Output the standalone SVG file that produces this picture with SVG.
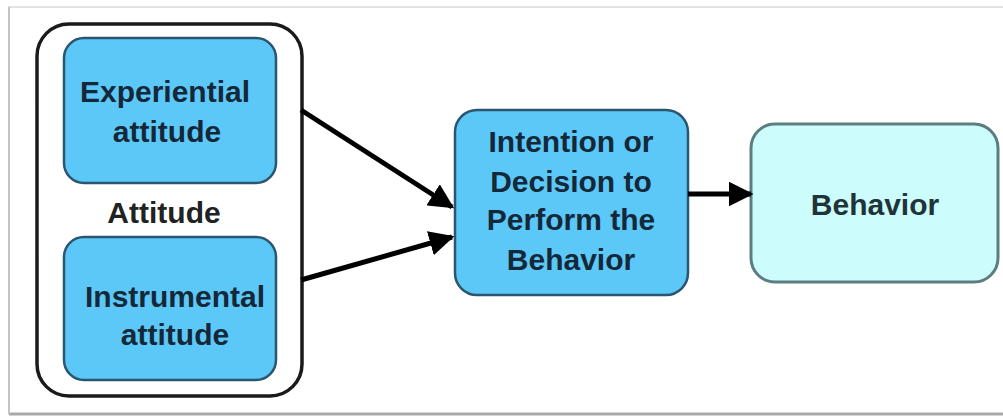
<svg xmlns="http://www.w3.org/2000/svg" width="1003" height="419" viewBox="0 0 1003 419">
<defs>
<style>
.t{font-family:"Liberation Sans",Arial,sans-serif;font-weight:bold;font-size:30px;text-anchor:middle;fill:#14283a}
.blue{fill:#5cc8f7;stroke:#2b5670;stroke-width:2.5}
.conn{stroke:#000;stroke-width:5;fill:none}
</style>
<marker id="ah" markerWidth="5" markerHeight="5" refX="4.5" refY="2.5" orient="auto" markerUnits="strokeWidth">
<path d="M0,0 L5,2.5 L0,5 Z" fill="#000"/>
</marker>
</defs>
<rect x="0" y="0" width="1003" height="419" fill="#ffffff"/>
<g id="frame">
<rect x="9" y="7" width="1000" height="407" fill="#ffffff" stroke="#e2e2e2" stroke-width="2"/>
<line x1="9" y1="414" x2="1003" y2="414" stroke="#a9a9a9" stroke-width="3"/>
<line x1="9" y1="7" x2="9" y2="414" stroke="#c4c4c4" stroke-width="2"/>
</g>
<g id="attitude">
<rect x="37" y="24" width="265" height="372" rx="32" fill="#ffffff" stroke="#1a1a1a" stroke-width="3.5"/>
<text class="t" x="164" y="223" style="fill:#222">Attitude</text>
</g>
<g id="experiential">
<rect class="blue" x="64" y="38" width="212" height="145" rx="20"/>
<text class="t" x="165" y="102">Experiential</text>
<text class="t" x="167" y="142">attitude</text>
</g>
<g id="instrumental">
<rect class="blue" x="64" y="237" width="212" height="143" rx="20"/>
<text class="t" x="175" y="307">Instrumental</text>
<text class="t" x="175" y="345">attitude</text>
</g>
<g id="intention">
<rect class="blue" x="455" y="110" width="233" height="185" rx="22"/>
<text class="t" x="571" y="152">Intention or</text>
<text class="t" x="571" y="192">Decision to</text>
<text class="t" x="571" y="230">Perform the</text>
<text class="t" x="571" y="270">Behavior</text>
</g>
<g id="behavior">
<rect x="751" y="124" width="247" height="158" rx="24" fill="#cdfcfd" stroke="#5d7e80" stroke-width="3"/>
<text class="t" x="875" y="215" style="fill:#1f3438">Behavior</text>
</g>
<g id="connectors">
<line class="conn" x1="301" y1="110" x2="452" y2="207" marker-end="url(#ah)"/>
<line class="conn" x1="301" y1="280" x2="452" y2="237" marker-end="url(#ah)"/>
<line class="conn" x1="688" y1="194" x2="751" y2="194" marker-end="url(#ah)"/>
</g>
</svg>
